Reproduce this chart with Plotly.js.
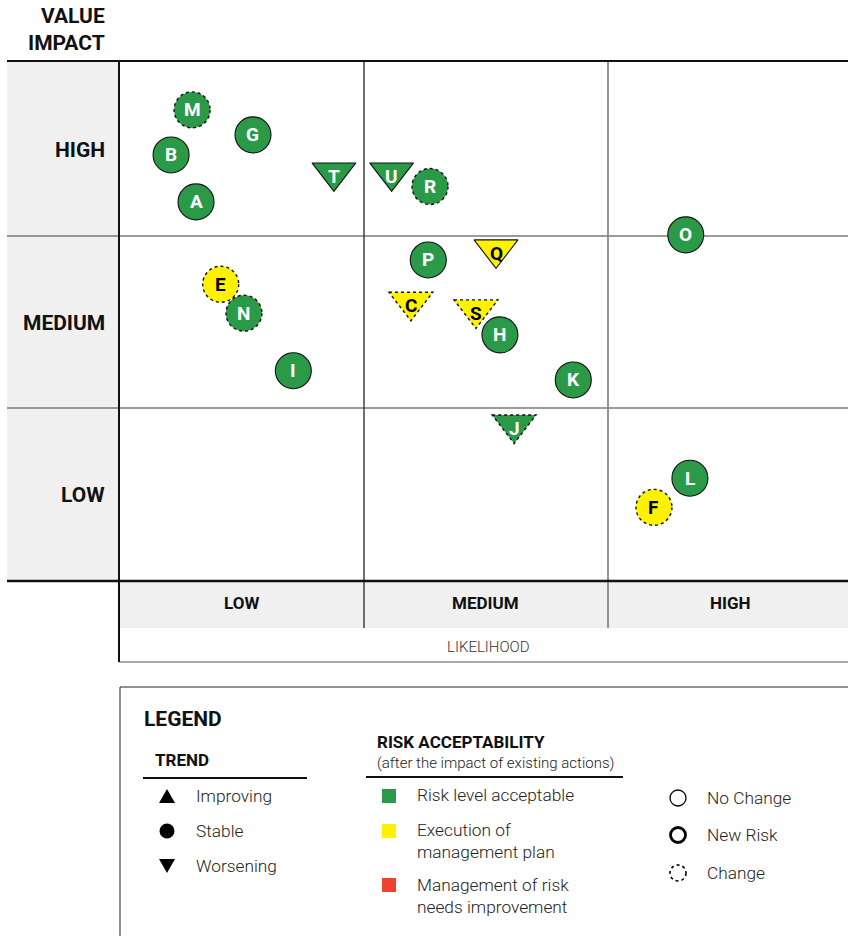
<!DOCTYPE html>
<html>
<head>
<meta charset="utf-8">
<script src="https://cdn.plot.ly/plotly-3.0.1.min.js"></script>
<style>
  html, body { margin: 0; padding: 0; background: #fff; }
  #risk-map { width: 848px; height: 936px; }
</style>
</head>
<body>
<div id="risk-map"></div>
<script>
const W = 848;
const H = 936;

// risk positions: likelihood 0..3 (low/medium/high), impact 0..3
const riskIds    = ['A', 'B', 'C', 'E', 'F', 'G', 'S', 'H', 'I', 'J', 'K', 'L', 'M', 'N', 'O', 'P', 'Q', 'R', 'T', 'U'];
const likelihood = [0.315, 0.213, 1.194, 0.416, 2.188, 0.548, 1.460, 1.558, 0.713, 1.616, 1.858, 2.335, 0.299, 0.511, 2.318, 1.265, 1.542, 1.272, 0.879, 1.115];
const impact     = [2.187, 2.458, 1.611, 1.712, 0.425, 2.574, 1.567, 1.420, 1.213, 0.903, 1.160, 0.593, 2.718, 1.545, 1.997, 1.852, 1.913, 2.276, 2.357, 2.357];
const trend      = ['stable', 'stable', 'worsening', 'stable', 'stable', 'stable', 'worsening', 'stable', 'stable', 'worsening', 'stable', 'stable', 'stable', 'stable', 'stable', 'stable', 'worsening', 'stable', 'worsening', 'worsening'];
const acceptability = ['ok', 'ok', 'plan', 'plan', 'plan', 'ok', 'plan', 'ok', 'ok', 'ok', 'ok', 'ok', 'ok', 'ok', 'ok', 'ok', 'plan', 'ok', 'ok', 'ok'];
const changed    = [false, false, true, true, true, false, true, false, false, true, false, false, true, true, false, false, false, true, false, false];

const levelLabels = ['LOW', 'MEDIUM', 'HIGH'];

const GREEN = '#2b9a48';
const YELLOW = '#fff200';
const RED = '#ef4130';
const GREY_BG = '#f0f0f0';
const FONT = 'Roboto, Arial, sans-serif';

const fillFor = { ok: GREEN, plan: YELLOW, improve: RED };
const textFor = { ok: '#ffffff', plan: '#000000', improve: '#ffffff' };
const symbolFor = { stable: 'circle', worsening: 'triangle-down', improving: 'triangle-up' };

const CIRCLE = 36;
const TRI = 38;

// page pixel -> paper coords (margins are zero)
const px = (x) => x / W;
const py = (y) => 1 - y / H;

function line(x0, y0, x1, y1, color, width, dash) {
  return {
    type: 'line', xref: 'paper', yref: 'paper', layer: 'below',
    x0: px(x0), y0: py(y0), x1: px(x1), y1: py(y1),
    line: { color, width, dash: dash || 'solid' }
  };
}

function rect(x0, y0, x1, y1, fill, lineColor, lineWidth) {
  return {
    type: 'rect', xref: 'paper', yref: 'paper', layer: 'below',
    x0: px(x0), y0: py(y0), x1: px(x1), y1: py(y1),
    fillcolor: fill, line: { color: lineColor || fill, width: lineWidth || 0 }
  };
}

function ring(cx, cy, r, width, dash, fill) {
  return {
    type: 'circle', xref: 'paper', yref: 'paper',
    x0: px(cx - r), x1: px(cx + r), y0: py(cy + r), y1: py(cy - r),
    fillcolor: fill || 'rgba(0,0,0,0)',
    line: { color: '#000', width, dash: dash || 'solid' }
  };
}

function tri(cx, cy, w, h, up) {
  const tip = up ? cy - h / 2 : cy + h / 2;
  const base = up ? cy + h / 2 : cy - h / 2;
  return {
    type: 'path', xref: 'paper', yref: 'paper',
    path: `M${px(cx - w / 2)},${py(base)}L${px(cx + w / 2)},${py(base)}L${px(cx)},${py(tip)}Z`,
    fillcolor: '#000', line: { width: 0 }
  };
}

function note(text, x, y, size, weight, anchor, color) {
  return {
    text, x: px(x), y: py(y), xref: 'paper', yref: 'paper',
    xanchor: anchor || 'left', yanchor: 'middle', showarrow: false, align: anchor || 'left',
    borderpad: 0,
    font: { family: FONT, size, weight: weight || 400, color: color || '#111' }
  };
}

// risk markers
const trace = {
  x: likelihood,
  y: impact,
  mode: 'markers',
  type: 'scatter',
  marker: {
    symbol: trend.map((t) => symbolFor[t]),
    size: trend.map((t) => (t === 'stable' ? CIRCLE : TRI)),
    color: acceptability.map((a) => fillFor[a]),
    opacity: 1,
    line: { color: '#111', width: changed.map((c) => (c ? 0 : 1.1)) }
  },
  hoverinfo: 'none',
  cliponaxis: false,
  showlegend: false
};

// risk letters, nudged down inside triangles
const riskLetters = riskIds.map((id, i) => ({
  text: id, x: likelihood[i], y: impact[i], xref: 'x', yref: 'y',
  showarrow: false, xanchor: 'center', yanchor: 'middle',
  yshift: trend[i] === 'stable' ? 0 : -4,
  font: { family: FONT, size: 19, weight: 700, color: textFor[acceptability[i]] }
}));

// dotted outlines for changed risks
const changeShapes = [];
riskIds.forEach((id, i) => {
  if (!changed[i]) return;
  const base = {
    xref: 'x', yref: 'y', xsizemode: 'pixel', ysizemode: 'pixel',
    xanchor: likelihood[i], yanchor: impact[i], layer: 'above',
    line: { color: '#111', width: 1.4, dash: 'dot' }
  };
  if (trend[i] === 'stable') {
    const r = CIRCLE / 2;
    changeShapes.push(Object.assign({ type: 'circle', x0: -r, x1: r, y0: -r, y1: r }, base));
  } else {
    const r = TRI / 2;
    const xw = (r * 2 / Math.sqrt(3)).toFixed(2);
    changeShapes.push(Object.assign({ type: 'path', path: `M-${xw},${r / 2}L${xw},${r / 2}L0,-${r}Z` }, base));
  }
});

const frame = [
  rect(7, 61, 119, 581, GREY_BG),
  rect(119, 582, 850, 628, GREY_BG),
  line(7, 236, 850, 236, '#7a7a7a', 1.6),
  line(7, 408, 850, 408, '#7a7a7a', 1.6),
  line(364, 61, 364, 628, '#333', 1.4),
  line(608, 61, 608, 628, '#7a7a7a', 1.6),
  line(7, 61, 850, 61, '#111', 2),
  line(7, 581, 850, 581, '#111', 2.5),
  line(119, 61, 119, 662, '#111', 2),
  line(119, 662, 850, 662, '#555', 1),
  rect(120, 687, 852, 945, 'rgba(0,0,0,0)', '#222', 1),
  line(143, 778, 307, 778, '#111', 2),
  line(366, 777, 623, 777, '#111', 2)
];

const legendGlyphs = [
  tri(167, 796, 16, 14, true),
  ring(167, 831, 7.5, 0, 'solid', '#000'),
  tri(167, 866, 16, 14, false),
  rect(382, 789, 396, 803, GREEN),
  rect(382, 824, 396, 838, YELLOW),
  rect(382, 878, 396, 892, RED),
  ring(678, 798, 8, 1.3),
  ring(678, 835, 7.5, 2.8),
  ring(678, 873, 8, 1.6, 'dot')
];
legendGlyphs.forEach((s) => { s.layer = 'above'; });

const LEG = 17.3;
const labels = [
  note('VALUE<br>IMPACT', 106, 29, 21, 700, 'right'),
  note(levelLabels[2], 106, 150, 21, 700, 'right'),
  note(levelLabels[1], 106, 323, 21, 700, 'right'),
  note(levelLabels[0], 106, 495, 21, 700, 'right'),
  note(levelLabels[0], 241, 603, 17, 700, 'center'),
  note(levelLabels[1], 486, 603, 17, 700, 'center'),
  note(levelLabels[2], 730, 603, 17, 700, 'center'),
  note('LIKELIHOOD', 488, 647, 15, 300, 'center', '#333'),
  note('LEGEND', 143, 719, 21, 700),
  note('TREND', 154, 760, 17, 700),
  note('Improving', 195, 796, LEG, 300, 'left', '#222'),
  note('Stable', 195, 831, LEG, 300, 'left', '#222'),
  note('Worsening', 195, 866, LEG, 300, 'left', '#222'),
  note('RISK ACCEPTABILITY', 376, 742, 17, 700),
  note('(after the impact of existing actions)', 376, 763, 15, 300, 'left', '#222'),
  note('Risk level acceptable', 416, 795, LEG, 300, 'left', '#222'),
  note('Execution of<br>management plan', 416, 841, LEG, 300, 'left', '#222'),
  note('Management of risk<br>needs improvement', 416, 896, LEG, 300, 'left', '#222'),
  note('No Change', 706, 798, LEG, 300, 'left', '#222'),
  note('New Risk', 706, 835, LEG, 300, 'left', '#222'),
  note('Change', 706, 873, LEG, 300, 'left', '#222')
];

const layout = {
  width: W,
  height: H,
  margin: { l: 0, r: 0, t: 0, b: 0 },
  paper_bgcolor: '#ffffff',
  plot_bgcolor: '#ffffff',
  showlegend: false,
  font: { family: FONT },
  xaxis: {
    domain: [119 / W, 1],
    range: [0, (W - 119) / 244.5],
    visible: false,
    fixedrange: true
  },
  yaxis: {
    domain: [1 - 581 / H, 1 - 61 / H],
    range: [0, 3],
    visible: false,
    fixedrange: true
  },
  shapes: frame.concat(changeShapes, legendGlyphs),
  annotations: labels.concat(riskLetters)
};

Plotly.newPlot('risk-map', [trace], layout, { displayModeBar: false, staticPlot: true });
</script>
</body>
</html>
